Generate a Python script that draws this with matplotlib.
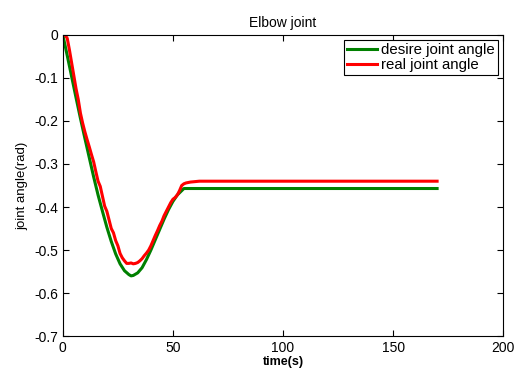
import numpy as np
from matplotlib import pyplot as plt

plt.rcParams['font.family'] = ['Liberation Sans', 'DejaVu Sans']

# desired trajectory (smooth)
t_desire = [0, 2, 4, 6, 8, 10, 12, 14, 16, 18, 20, 22, 24, 26, 28, 30, 31, 32,
            34, 36, 38, 40, 42, 44, 46, 48, 50, 52, 54, 55, 170]
desire_angle = [0.0, -0.048, -0.097, -0.146, -0.194, -0.24, -0.285, -0.33,
                -0.372, -0.41, -0.447, -0.48, -0.509, -0.532, -0.548, -0.557,
                -0.56, -0.559, -0.553, -0.541, -0.522, -0.5, -0.476, -0.452,
                -0.428, -0.406, -0.387, -0.372, -0.362, -0.357, -0.357]

# measured trajectory
t_real = list(range(0, 59)) + [60, 62, 64, 170]
real_angle = [0.0, 0.0, -0.008, -0.035, -0.065, -0.095, -0.125, -0.15, -0.182,
              -0.205, -0.225, -0.243, -0.26, -0.278, -0.295, -0.318, -0.34,
              -0.352, -0.375, -0.398, -0.41, -0.43, -0.45, -0.46, -0.478,
              -0.49, -0.508, -0.518, -0.525, -0.531, -0.531, -0.53, -0.532,
              -0.531, -0.529, -0.525, -0.52, -0.513, -0.507, -0.5, -0.49,
              -0.478, -0.466, -0.455, -0.443, -0.433, -0.42, -0.41, -0.4,
              -0.39, -0.382, -0.378, -0.372, -0.362, -0.35, -0.346, -0.344,
              -0.343, -0.342, -0.341, -0.34, -0.34, -0.34]

fig = plt.figure(figsize=(5.15, 3.71), dpi=100)
ax = fig.add_axes([0.122, 0.094, 0.855, 0.812])

ax.plot(t_desire, desire_angle, color=(0, 0.5, 0), lw=2.2, label='desire joint angle')
ax.plot(t_real, real_angle, color='red', lw=2.2, label='real joint angle')

ax.set_xlim(0, 200)
ax.set_ylim(-0.7, 0)
ax.set_xticks([0, 50, 100, 150, 200])
yt = np.round(np.arange(-0.7, 0.01, 0.1), 1)
ax.set_yticks(yt)
ax.set_yticklabels(['0' if v == 0 else '%.1f' % v for v in yt])
ax.tick_params(direction='in', top=True, right=True, labelsize=10, length=4)

ax.set_title('Elbow joint', fontsize=10, pad=6)
ax.set_xlabel('time(s)', fontsize=9, fontweight='bold', labelpad=1)
ax.set_ylabel('joint angle(rad)', fontsize=9.5, labelpad=4)

leg = ax.legend(loc='upper right', fontsize=10.8, fancybox=False, framealpha=1,
                edgecolor='black', handlelength=2.0, handletextpad=0.3,
                borderpad=0.2, labelspacing=0.05, borderaxespad=0.35)
leg.get_frame().set_linewidth(0.8)

plt.savefig('out.png', dpi=100)
plt.close()
